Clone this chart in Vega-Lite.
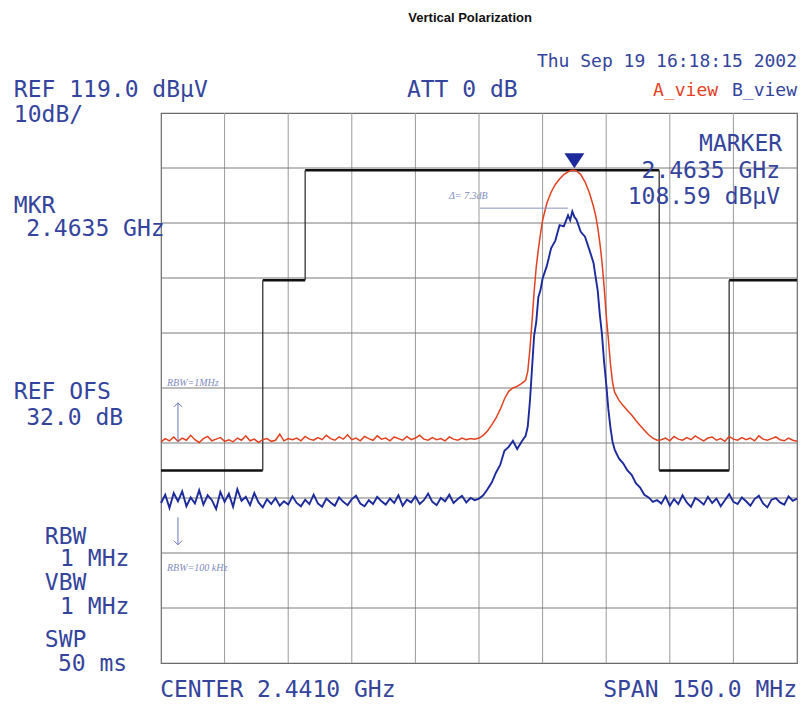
{
"$schema": "https://vega.github.io/schema/vega-lite/v6.json",
"width": 636, "height": 550,
"autosize": {"type": "none"},
"padding": {"left": 161, "top": 113, "right": 5, "bottom": 48},
"background": "white",
"config": {"view": {"stroke": "#6a6a6a", "strokeWidth": 1.2}},
"datasets": {
"gx": [{"f":2381},{"f":2396},{"f":2411},{"f":2426},{"f":2441},{"f":2456},{"f":2471},{"f":2486},{"f":2501}],
"gy": [{"d":29},{"d":39},{"d":49},{"d":59},{"d":69},{"d":79},{"d":89},{"d":99},{"d":109}],
"trace": [
{"f":2366,"a":59.2,"b":48.1},{"f":2367,"a":59.8,"b":49.6},{"f":2368,"a":59.4,"b":47.2},{"f":2369,"a":60.1,"b":49.9},{"f":2370,"a":59.3,"b":48.4},
{"f":2371,"a":59.9,"b":50.2},{"f":2372,"a":59.5,"b":47.5},{"f":2373,"a":60.4,"b":49.1},{"f":2374,"a":59.6,"b":48.0},{"f":2375,"a":59.1,"b":50.4},
{"f":2376,"a":59.8,"b":47.8},{"f":2377,"a":60.2,"b":49.5},{"f":2378,"a":59.4,"b":48.6},{"f":2379,"a":59.7,"b":47.0},{"f":2380,"a":60.0,"b":50.1},
{"f":2381,"a":59.3,"b":48.3},{"f":2382,"a":59.6,"b":49.8},{"f":2383,"a":59.2,"b":47.4},{"f":2384,"a":59.9,"b":50.6},{"f":2385,"a":59.5,"b":48.5},
{"f":2386,"a":60.3,"b":49.2},{"f":2387,"a":59.4,"b":47.7},{"f":2388,"a":59.7,"b":49.9},{"f":2389,"a":59.1,"b":48.2},{"f":2390,"a":59.6,"b":47.3},
{"f":2391,"a":59.8,"b":48.8},{"f":2392,"a":59.3,"b":47.9},{"f":2393,"a":59.5,"b":49.0},{"f":2394,"a":60.6,"b":47.6},{"f":2395,"a":59.4,"b":48.4},
{"f":2396,"a":59.8,"b":47.8},{"f":2397,"a":59.6,"b":49.3},{"f":2398,"a":59.9,"b":48.1},{"f":2399,"a":59.4,"b":47.5},{"f":2400,"a":60.2,"b":48.7},
{"f":2401,"a":59.7,"b":47.9},{"f":2402,"a":59.5,"b":49.6},{"f":2403,"a":60.0,"b":48.0},{"f":2404,"a":59.6,"b":47.4},{"f":2405,"a":60.4,"b":48.9},
{"f":2406,"a":59.8,"b":48.2},{"f":2407,"a":59.5,"b":47.6},{"f":2408,"a":60.1,"b":49.1},{"f":2409,"a":59.7,"b":48.3},{"f":2410,"a":60.5,"b":47.7},
{"f":2411,"a":59.6,"b":48.8},{"f":2412,"a":59.9,"b":49.4},{"f":2413,"a":59.4,"b":48.0},{"f":2414,"a":60.2,"b":47.5},{"f":2415,"a":59.8,"b":48.6},
{"f":2416,"a":59.5,"b":47.9},{"f":2417,"a":60.3,"b":49.2},{"f":2418,"a":59.7,"b":48.4},{"f":2419,"a":59.9,"b":47.8},{"f":2420,"a":59.4,"b":48.9},
{"f":2421,"a":60.1,"b":48.1},{"f":2422,"a":59.8,"b":49.5},{"f":2423,"a":59.5,"b":47.6},{"f":2424,"a":60.2,"b":48.7},{"f":2425,"a":59.6,"b":48.2},
{"f":2426,"a":59.9,"b":49.3},{"f":2427,"a":60.4,"b":47.9},{"f":2428,"a":59.7,"b":48.6},{"f":2429,"a":59.5,"b":49.8},{"f":2430,"a":60.0,"b":48.3},
{"f":2431,"a":59.6,"b":47.7},{"f":2432,"a":59.8,"b":49.0},{"f":2433,"a":59.4,"b":48.4},{"f":2434,"a":60.1,"b":49.6},{"f":2435,"a":59.7,"b":48.1},
{"f":2436,"a":59.5,"b":48.8},{"f":2437,"a":59.9,"b":49.4},{"f":2438,"a":59.6,"b":48.2},{"f":2439,"a":59.8,"b":49.0},{"f":2440,"a":59.7,"b":48.6},
{"f":2441,"a":59.9,"b":48.9},{"f":2442,"a":60.4,"b":49.5},{"f":2443,"a":61.2,"b":50.6},{"f":2444,"a":62.3,"b":51.8},{"f":2445,"a":63.5,"b":53.6},
{"f":2446,"a":65.1,"b":55.0},{"f":2447,"a":67.0,"b":57.6},{"f":2448,"a":68.4,"b":58.3},{"f":2449,"a":69.0,"b":59.4},{"f":2450,"a":69.3,"b":57.9},
{"f":2451,"a":69.8,"b":59.2},{"f":2452,"a":70.4,"b":60.3},{"f":2452.5,"a":72.0,"b":62.0},{"f":2453,"a":76.0,"b":66.5},{"f":2453.5,"a":81.0,"b":72.5},
{"f":2454,"a":86.5,"b":78.5},{"f":2454.5,"a":91.0,"b":81.0},{"f":2455,"a":94.2,"b":85.5},{"f":2455.5,"a":97.0,"b":86.8},{"f":2456,"a":99.5,"b":88.9},
{"f":2457,"a":102.6,"b":91.2},{"f":2458,"a":104.6,"b":94.4},{"f":2459,"a":106.0,"b":95.8},{"f":2460,"a":107.0,"b":98.6},{"f":2461,"a":107.8,"b":98.4},
{"f":2462,"a":108.3,"b":100.4},{"f":2462.5,"a":108.5,"b":99.5},{"f":2463,"a":108.57,"b":101.1},{"f":2463.5,"a":108.59,"b":100.1},{"f":2464,"a":108.45,"b":99.6},
{"f":2465,"a":107.8,"b":97.4},{"f":2466,"a":106.5,"b":96.5},{"f":2467,"a":104.6,"b":94.2},{"f":2468,"a":102.0,"b":91.8},{"f":2468.5,"a":100.4,"b":89.2},
{"f":2469,"a":98.2,"b":86.7},{"f":2469.5,"a":95.4,"b":82.3},{"f":2470,"a":92.0,"b":78.8},{"f":2470.5,"a":87.5,"b":73.8},{"f":2471,"a":82.3,"b":69.8},
{"f":2471.5,"a":78.0,"b":65.2},{"f":2472,"a":73.4,"b":61.8},{"f":2472.5,"a":70.0,"b":59.2},{"f":2473,"a":68.2,"b":57.8},{"f":2474,"a":66.8,"b":56.2},
{"f":2475,"a":65.8,"b":55.3},{"f":2476,"a":64.9,"b":54.0},{"f":2477,"a":64.1,"b":53.2},{"f":2478,"a":63.1,"b":51.7},{"f":2479,"a":62.2,"b":50.9},
{"f":2480,"a":61.3,"b":49.6},{"f":2481,"a":60.5,"b":49.1},{"f":2482,"a":59.9,"b":48.3},{"f":2483,"a":59.5,"b":48.6},
{"f":2484,"a":59.6,"b":48.0},{"f":2485,"a":59.9,"b":49.3},{"f":2486,"a":59.4,"b":47.6},{"f":2487,"a":60.2,"b":48.8},{"f":2488,"a":59.7,"b":47.9},
{"f":2489,"a":59.5,"b":49.5},{"f":2490,"a":60.0,"b":48.2},{"f":2491,"a":59.6,"b":47.4},{"f":2492,"a":60.3,"b":49.0},{"f":2493,"a":59.8,"b":48.5},
{"f":2494,"a":59.4,"b":47.8},{"f":2495,"a":59.9,"b":49.2},{"f":2496,"a":60.1,"b":48.1},{"f":2497,"a":59.5,"b":48.9},{"f":2498,"a":59.8,"b":47.5},
{"f":2499,"a":59.3,"b":48.6},{"f":2500,"a":60.2,"b":49.7},{"f":2501,"a":59.7,"b":48.3},{"f":2502,"a":59.5,"b":47.9},{"f":2503,"a":60.0,"b":49.1},
{"f":2504,"a":59.6,"b":48.4},{"f":2505,"a":59.9,"b":47.6},{"f":2506,"a":59.4,"b":48.8},{"f":2507,"a":60.3,"b":49.4},{"f":2508,"a":59.7,"b":48.0},
{"f":2509,"a":59.5,"b":47.3},{"f":2510,"a":59.8,"b":48.7},{"f":2511,"a":60.1,"b":49.0},{"f":2512,"a":59.6,"b":48.2},{"f":2513,"a":59.4,"b":47.8},
{"f":2514,"a":59.9,"b":49.3},{"f":2515,"a":59.5,"b":48.5},{"f":2516,"a":59.3,"b":48.9}
],
"maskh": [
{"f":2366,"f2":2390,"d":54},{"f":2390,"f2":2400,"d":88.59},{"f":2400,"f2":2483.5,"d":108.59},{"f":2483.5,"f2":2500,"d":54},{"f":2500,"f2":2516,"d":88.59}
],
"maskv": [
{"f":2390,"d":54,"d2":88.59},{"f":2400,"d":88.59,"d2":108.59},{"f":2483.5,"d":108.59,"d2":54},{"f":2500,"d":54,"d2":88.59}
],
"marker": [{"f":2463.5,"d":110.3}],
"delta": [{"f":2441.2,"f2":2462,"d":101.7}],
"arrows": [{"f":2370,"d":59.2,"d2":66.3,"dir":"up"},{"f":2370,"d":45.5,"d2":40.5,"dir":"down"}],
"labels": [
{"g":"info","t":"REF 119.0 dBμV","f":2331.3,"d":123.2},
{"g":"info","t":"10dB/","f":2331.3,"d":118.6},
{"g":"info","t":"MKR","f":2331.3,"d":102.1},
{"g":"info","t":"2.4635 GHz","f":2334.2,"d":97.9},
{"g":"info","t":"REF OFS","f":2331.3,"d":68.3},
{"g":"info","t":"32.0 dB","f":2334.2,"d":63.5},
{"g":"info","t":"RBW","f":2338.6,"d":41.9},
{"g":"info","t":"1 MHz","f":2342.2,"d":37.9},
{"g":"info","t":"VBW","f":2338.6,"d":33.5},
{"g":"info","t":"1 MHz","f":2342.2,"d":29.2},
{"g":"info","t":"SWP","f":2338.6,"d":23.2},
{"g":"info","t":"50 ms","f":2341.7,"d":18.8},
{"g":"info","t":"ATT 0 dB","f":2424.0,"d":123.2},
{"g":"info","t":"CENTER 2.4410 GHz","f":2365.8,"d":14.1},
{"g":"right","t":"MARKER","f":2512.5,"d":113.4},
{"g":"right","t":"2.4635 GHz","f":2512.0,"d":108.5},
{"g":"right","t":"108.59 dBμV","f":2512.0,"d":103.7},
{"g":"right","t":"SPAN 150.0 MHz","f":2516.0,"d":14.1},
{"g":"small","t":"Thu Sep 19 16:18:15 2002","f":2516.0,"d":128.3},
{"g":"small","t":"B_view","f":2516.0,"d":123.0},
{"g":"smallred","t":"A_view","f":2497.4,"d":123.0},
{"g":"hand","t":"RBW=1MHz","f":2367.4,"d":69.9},
{"g":"hand","t":"RBW=100 kHz","f":2367.4,"d":36.3},
{"g":"hand","t":"Δ= 7.3dB","f":2433.9,"d":103.9},
{"g":"title","t":"Vertical Polarization","f":2438.9,"d":136.3}
]
},
"layer": [
{"data": {"name": "gx"},
 "mark": {"type": "rule", "color": "#9a9a9a", "strokeWidth": 1},
 "encoding": {
  "x": {"field": "f", "type": "quantitative", "scale": {"domain": [2366, 2516], "nice": false, "zero": false}, "axis": null}
 }},
{"data": {"name": "gy"},
 "mark": {"type": "rule", "color": "#7a7a7a", "strokeWidth": 1},
 "encoding": {
  "y": {"field": "d", "type": "quantitative", "scale": {"domain": [19, 119], "nice": false, "zero": false}, "axis": null}
 }},
{"data": {"name": "maskh"},
 "mark": {"type": "rule", "color": "#111111", "strokeWidth": 2.6},
 "encoding": {
  "x": {"field": "f", "type": "quantitative", "scale": {"domain": [2366, 2516], "nice": false, "zero": false}, "axis": null},
  "x2": {"field": "f2"},
  "y": {"field": "d", "type": "quantitative", "scale": {"domain": [19, 119], "nice": false, "zero": false}, "axis": null}
 }},
{"data": {"name": "maskv"},
 "mark": {"type": "rule", "color": "#333333", "strokeWidth": 1.3},
 "encoding": {
  "x": {"field": "f", "type": "quantitative", "scale": {"domain": [2366, 2516], "nice": false, "zero": false}, "axis": null},
  "y": {"field": "d", "type": "quantitative", "scale": {"domain": [19, 119], "nice": false, "zero": false}, "axis": null},
  "y2": {"field": "d2"}
 }},
{"data": {"name": "trace"},
 "mark": {"type": "line", "color": "#e2401f", "strokeWidth": 1.5},
 "encoding": {
  "x": {"field": "f", "type": "quantitative", "scale": {"domain": [2366, 2516], "nice": false, "zero": false}, "axis": null},
  "y": {"field": "a", "type": "quantitative", "scale": {"domain": [19, 119], "nice": false, "zero": false}, "axis": null}
 }},
{"data": {"name": "trace"},
 "mark": {"type": "line", "color": "#1c2a9c", "strokeWidth": 1.9},
 "encoding": {
  "x": {"field": "f", "type": "quantitative", "scale": {"domain": [2366, 2516], "nice": false, "zero": false}, "axis": null},
  "y": {"field": "b", "type": "quantitative", "scale": {"domain": [19, 119], "nice": false, "zero": false}, "axis": null}
 }},
{"data": {"name": "marker"},
 "mark": {"type": "point", "shape": "M-1,-0.75L1,-0.75L0,0.75Z", "filled": true, "color": "#1c2a9c", "size": 400, "opacity": 1},
 "encoding": {
  "x": {"field": "f", "type": "quantitative", "scale": {"domain": [2366, 2516], "nice": false, "zero": false}, "axis": null},
  "y": {"field": "d", "type": "quantitative", "scale": {"domain": [19, 119], "nice": false, "zero": false}, "axis": null}
 }},
{"data": {"name": "delta"},
 "mark": {"type": "rule", "color": "#8a93c0", "strokeWidth": 1},
 "encoding": {
  "x": {"field": "f", "type": "quantitative", "scale": {"domain": [2366, 2516], "nice": false, "zero": false}, "axis": null},
  "x2": {"field": "f2"},
  "y": {"field": "d", "type": "quantitative", "scale": {"domain": [19, 119], "nice": false, "zero": false}, "axis": null}
 }},
{"data": {"name": "arrows"},
 "mark": {"type": "rule", "color": "#6a78b8", "strokeWidth": 1},
 "encoding": {
  "x": {"field": "f", "type": "quantitative", "scale": {"domain": [2366, 2516], "nice": false, "zero": false}, "axis": null},
  "y": {"field": "d", "type": "quantitative", "scale": {"domain": [19, 119], "nice": false, "zero": false}, "axis": null},
  "y2": {"field": "d2"}
 }},
{"data": {"name": "arrows"},
 "transform": [{"filter": "datum.dir == 'up'"}],
 "mark": {"type": "point", "shape": "M-1,1L0,0L1,1", "filled": false, "color": "#6a78b8", "strokeWidth": 1, "size": 64, "opacity": 1},
 "encoding": {
  "x": {"field": "f", "type": "quantitative", "scale": {"domain": [2366, 2516], "nice": false, "zero": false}, "axis": null},
  "y": {"field": "d2", "type": "quantitative", "scale": {"domain": [19, 119], "nice": false, "zero": false}, "axis": null}
 }},
{"data": {"name": "arrows"},
 "transform": [{"filter": "datum.dir == 'down'"}],
 "mark": {"type": "point", "shape": "M-1,-1L0,0L1,-1", "filled": false, "color": "#6a78b8", "strokeWidth": 1, "size": 64, "opacity": 1},
 "encoding": {
  "x": {"field": "f", "type": "quantitative", "scale": {"domain": [2366, 2516], "nice": false, "zero": false}, "axis": null},
  "y": {"field": "d2", "type": "quantitative", "scale": {"domain": [19, 119], "nice": false, "zero": false}, "axis": null}
 }},
{"data": {"name": "labels"},
 "transform": [{"filter": "datum.g == 'info'"}],
 "mark": {"type": "text", "align": "left", "baseline": "middle", "font": "DejaVu Sans Mono", "fontSize": 23, "color": "#34449c"},
 "encoding": {
  "x": {"field": "f", "type": "quantitative", "scale": {"domain": [2366, 2516], "nice": false, "zero": false}, "axis": null},
  "y": {"field": "d", "type": "quantitative", "scale": {"domain": [19, 119], "nice": false, "zero": false}, "axis": null},
  "text": {"field": "t"}
 }},
{"data": {"name": "labels"},
 "transform": [{"filter": "datum.g == 'right'"}],
 "mark": {"type": "text", "align": "right", "baseline": "middle", "font": "DejaVu Sans Mono", "fontSize": 23, "color": "#34449c"},
 "encoding": {
  "x": {"field": "f", "type": "quantitative", "scale": {"domain": [2366, 2516], "nice": false, "zero": false}, "axis": null},
  "y": {"field": "d", "type": "quantitative", "scale": {"domain": [19, 119], "nice": false, "zero": false}, "axis": null},
  "text": {"field": "t"}
 }},
{"data": {"name": "labels"},
 "transform": [{"filter": "datum.g == 'small'"}],
 "mark": {"type": "text", "align": "right", "baseline": "middle", "font": "DejaVu Sans Mono", "fontSize": 18, "color": "#34449c"},
 "encoding": {
  "x": {"field": "f", "type": "quantitative", "scale": {"domain": [2366, 2516], "nice": false, "zero": false}, "axis": null},
  "y": {"field": "d", "type": "quantitative", "scale": {"domain": [19, 119], "nice": false, "zero": false}, "axis": null},
  "text": {"field": "t"}
 }},
{"data": {"name": "labels"},
 "transform": [{"filter": "datum.g == 'smallred'"}],
 "mark": {"type": "text", "align": "right", "baseline": "middle", "font": "DejaVu Sans Mono", "fontSize": 18, "color": "#e2401f"},
 "encoding": {
  "x": {"field": "f", "type": "quantitative", "scale": {"domain": [2366, 2516], "nice": false, "zero": false}, "axis": null},
  "y": {"field": "d", "type": "quantitative", "scale": {"domain": [19, 119], "nice": false, "zero": false}, "axis": null},
  "text": {"field": "t"}
 }},
{"data": {"name": "labels"},
 "transform": [{"filter": "datum.g == 'hand'"}],
 "mark": {"type": "text", "align": "left", "baseline": "middle", "font": "Liberation Serif", "fontStyle": "italic", "fontSize": 10, "color": "#7f8cc0"},
 "encoding": {
  "x": {"field": "f", "type": "quantitative", "scale": {"domain": [2366, 2516], "nice": false, "zero": false}, "axis": null},
  "y": {"field": "d", "type": "quantitative", "scale": {"domain": [19, 119], "nice": false, "zero": false}, "axis": null},
  "text": {"field": "t"}
 }},
{"data": {"name": "labels"},
 "transform": [{"filter": "datum.g == 'title'"}],
 "mark": {"type": "text", "align": "center", "baseline": "middle", "font": "Liberation Sans", "fontWeight": "bold", "fontSize": 13, "color": "#111111"},
 "encoding": {
  "x": {"field": "f", "type": "quantitative", "scale": {"domain": [2366, 2516], "nice": false, "zero": false}, "axis": null},
  "y": {"field": "d", "type": "quantitative", "scale": {"domain": [19, 119], "nice": false, "zero": false}, "axis": null},
  "text": {"field": "t"}
 }}
]
}
